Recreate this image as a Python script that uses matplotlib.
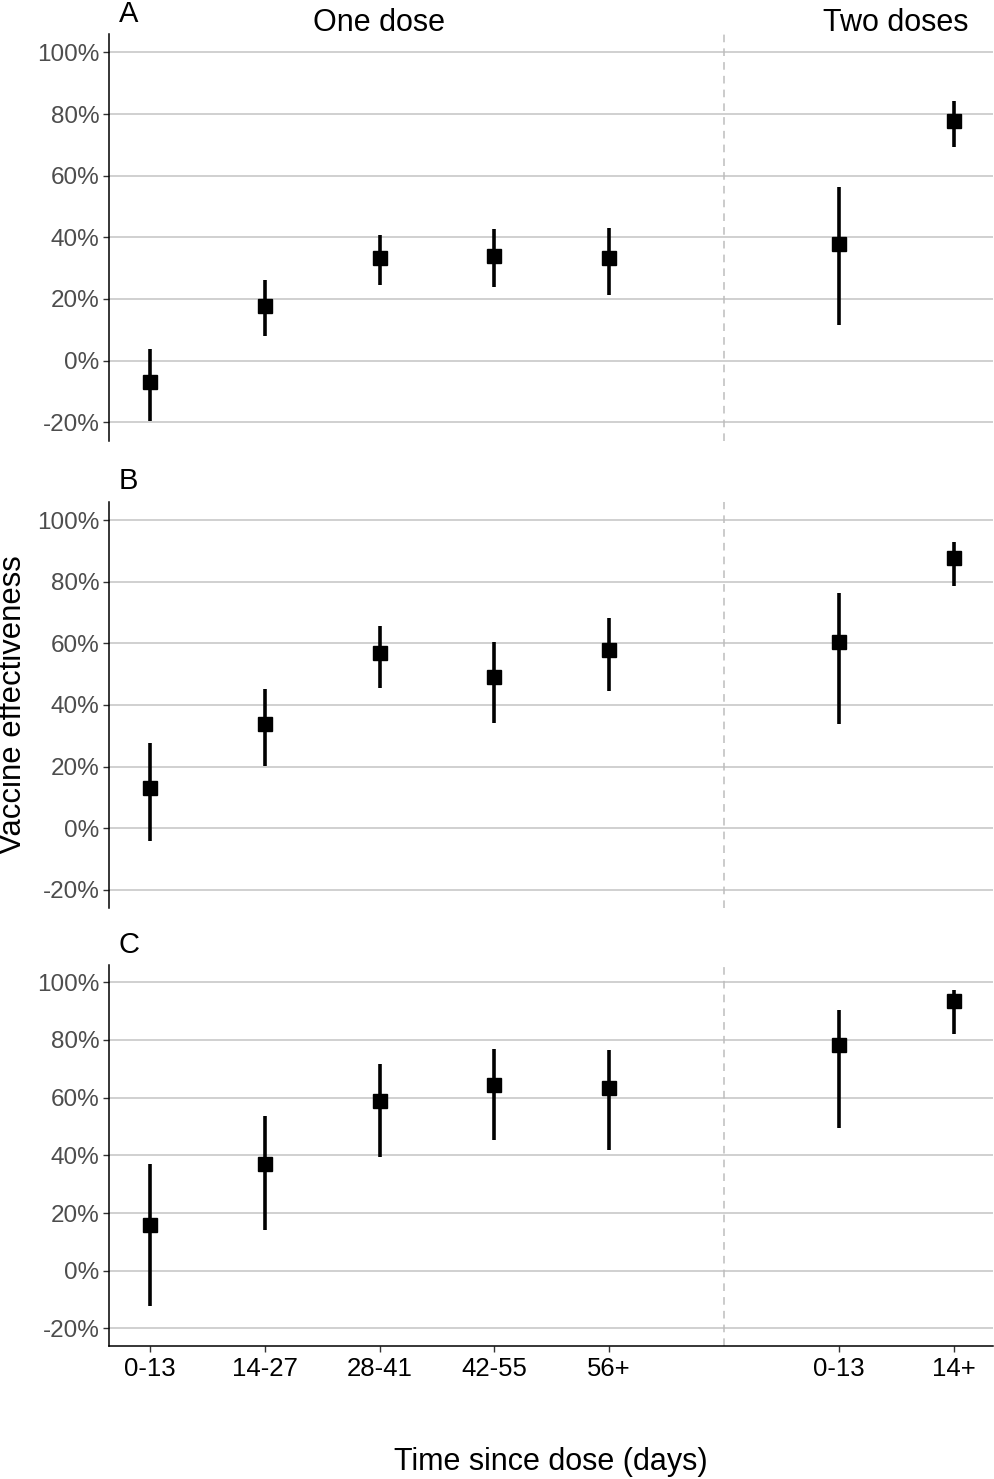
import matplotlib
matplotlib.use("Agg")
import matplotlib.pyplot as plt
from matplotlib.ticker import FuncFormatter

plt.rcParams['font.family'] = ['Liberation Sans', 'DejaVu Sans']

categories = ["0-13", "14-27", "28-41", "42-55", "56+", "0-13", "14+"]
dose_groups = ["One dose", "One dose", "One dose", "One dose", "One dose", "Two doses", "Two doses"]
panel_labels = ["A", "B", "C"]

ve_A = [-7.0, 17.8, 33.3, 34.1, 33.2, 38.0, 77.9]
lo_A = [-19.7, 7.9, 24.4, 24.0, 21.2, 11.7, 69.4]
hi_A = [3.9, 26.3, 40.9, 42.7, 43.1, 56.4, 84.1]

ve_B = [13.1, 33.9, 56.8, 49.0, 58.0, 60.3, 87.8]
lo_B = [-4.2, 20.1, 45.5, 34.1, 44.4, 33.9, 78.6]
hi_B = [27.6, 45.2, 65.7, 60.6, 68.1, 76.2, 92.9]

ve_C = [16.0, 36.9, 58.8, 64.4, 63.3, 78.3, 93.6]
lo_C = [-12.3, 14.2, 39.6, 45.2, 42.0, 49.4, 82.2]
hi_C = [36.9, 53.5, 71.7, 77.0, 76.7, 90.5, 97.5]

yticks = [-20, 0, 20, 40, 60, 80, 100]

W, H = 995, 1479
fig = plt.figure(figsize=(W / 100, H / 100), dpi=100)

# x positions: a gap slot between dose groups
xpos = []
p = 0
prev = None
for g in dose_groups:
    p += 1
    if prev is not None and g != prev:
        p += 1
    xpos.append(p)
    prev = g
sep = xpos[5] - 1

panels = [(ve_A, lo_A, hi_A, 34, 440.7),
          (ve_B, lo_B, hi_B, 501.7, 908.3),
          (ve_C, lo_C, hi_C, 965, 1345.7)]
left_px, right_px = 109.3, 993.3

for i, (ve, lo, hi, top, bot) in enumerate(panels):
    ax = fig.add_axes([left_px / W, 1 - bot / H, (right_px - left_px) / W, (bot - top) / H])
    ax.set_xlim(0.646, 8.346)
    ax.set_ylim(-26.0, 106.0)
    for yt in yticks:
        ax.axhline(yt, color='#C4C4C4', lw=1.1, zorder=0)
    ax.axvline(sep, color='#BDBDBD', lw=1.1, ls=(0, (5, 4)), zorder=1)
    ax.vlines(xpos, lo, hi, color='black', lw=2.6, zorder=3)
    ax.plot(xpos, ve, ls='none', marker='s', ms=10.5, color='black', zorder=4)
    ax.set_yticks(yticks)
    ax.yaxis.set_major_formatter(FuncFormatter(lambda v, _: f"{int(v)}%"))
    ax.tick_params(axis='y', labelsize=17.5, labelcolor='#4D4D4D', length=4, width=1, color='#333333', pad=3)
    for s in ['top', 'right']:
        ax.spines[s].set_visible(False)
    ax.spines['left'].set_linewidth(1.1)
    if i < 2:
        ax.spines['bottom'].set_visible(False)
        ax.set_xticks([])
    else:
        ax.spines['bottom'].set_linewidth(1.1)
        ax.set_xticks(xpos)
        ax.set_xticklabels(categories)
        ax.tick_params(axis='x', labelsize=18.5, labelcolor='black', length=4, width=1, color='#333333', pad=4)
    ax.set_facecolor('none')
    fig.text(119 / W, 1 - (top - 20.5) / H, panel_labels[i], fontsize=21, ha='left', va='center')

fig.text(379 / W, 1 - 23 / H, "One dose", fontsize=22, ha='center', va='center')
fig.text(896 / W, 1 - 23 / H, "Two doses", fontsize=22, ha='center', va='center')
fig.text(13 / W, 1 - 705 / H, "Vaccine effectiveness", fontsize=22.3, rotation=90, ha='center', va='center')
fig.text(551 / W, 1 - 1462 / H, "Time since dose (days)", fontsize=22, ha='center', va='center')

fig.savefig("out.png", dpi=100)
